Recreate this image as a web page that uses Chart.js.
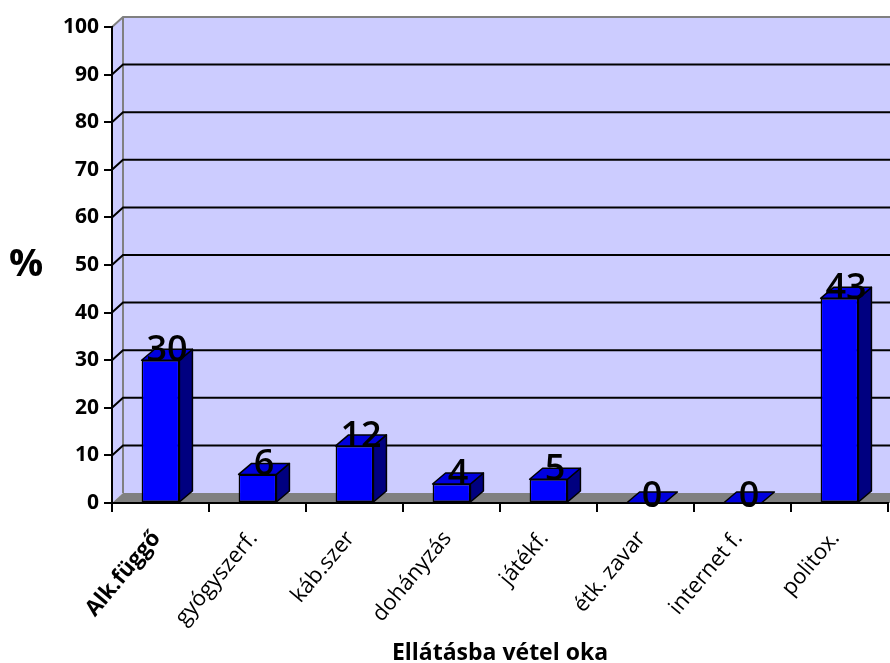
<!DOCTYPE html>
<html>
<head>
<meta charset="utf-8">
<script src="https://cdn.jsdelivr.net/npm/chart.js@4"></script>
<style>
  html, body { margin: 0; padding: 0; background: #fff; }
  #wrap { width: 890px; height: 663px; }
</style>
</head>
<body>
<div id="wrap"><canvas id="c" width="890" height="663"></canvas></div>
<script>
const categories = ['Alk.függő', 'gyógyszerf.', 'káb.szer', 'dohányzás', 'játékf.', 'étk. zavar', 'internet f.', 'politox.'];
const values = [30, 6, 12, 4, 5, 0, 0, 43];
const yTicks = [0, 10, 20, 30, 40, 50, 60, 70, 80, 90, 100];

Chart.defaults.font.family = "'Open Sans', 'DejaVu Sans', sans-serif";
Chart.defaults.color = '#000';

// depth offsets for the fake 3D look
const WALL = { dx: 11, dy: 10 };
const BAR = { dx: 13, dy: 11 };

const threeD = {
  id: 'threeD',
  beforeDraw(chart) {
    const { ctx, chartArea: a, scales: { y } } = chart;
    const W = chart.width;
    ctx.save();
    // side + back wall
    ctx.fillStyle = '#CCCCFF';
    ctx.beginPath();
    ctx.moveTo(a.left, a.bottom);
    ctx.lineTo(a.left, a.top);
    ctx.lineTo(a.left + WALL.dx, a.top - WALL.dy);
    ctx.lineTo(W, a.top - WALL.dy);
    ctx.lineTo(W, a.bottom - WALL.dy);
    ctx.lineTo(a.left + WALL.dx, a.bottom - WALL.dy);
    ctx.closePath();
    ctx.fill();
    // wall borders
    ctx.strokeStyle = '#808080';
    ctx.lineWidth = 2;
    ctx.beginPath();
    ctx.moveTo(a.left, a.top);
    ctx.lineTo(a.left + WALL.dx, a.top - WALL.dy);
    ctx.lineTo(W, a.top - WALL.dy);
    ctx.moveTo(a.left + WALL.dx, a.top - WALL.dy);
    ctx.lineTo(a.left + WALL.dx, a.bottom - WALL.dy);
    ctx.stroke();
    // gridlines on the wall
    ctx.strokeStyle = '#000';
    ctx.lineWidth = 2;
    yTicks.forEach(v => {
      if (v === 0 || v === 100) return;
      const py = y.getPixelForValue(v);
      ctx.beginPath();
      ctx.moveTo(a.left, py);
      ctx.lineTo(a.left + WALL.dx, py - WALL.dy);
      ctx.lineTo(W, py - WALL.dy);
      ctx.stroke();
    });
    // floor
    ctx.fillStyle = '#808080';
    ctx.beginPath();
    ctx.moveTo(a.left, a.bottom);
    ctx.lineTo(a.left + WALL.dx, a.bottom - WALL.dy);
    ctx.lineTo(W, a.bottom - WALL.dy);
    ctx.lineTo(W, a.bottom);
    ctx.closePath();
    ctx.fill();
    ctx.restore();
  },
  afterDatasetsDraw(chart) {
    const { ctx } = chart;
    const meta = chart.getDatasetMeta(0);
    ctx.save();
    ctx.strokeStyle = '#000';
    ctx.lineWidth = 1.5;
    ctx.lineJoin = 'round';
    meta.data.forEach(bar => {
      const l = bar.x - bar.width / 2, r = bar.x + bar.width / 2;
      const t = bar.y, b = bar.base;
      // side
      if (b - t > 0.5) {
        ctx.fillStyle = '#000080';
        ctx.beginPath();
        ctx.moveTo(r, t);
        ctx.lineTo(r + BAR.dx, t - BAR.dy);
        ctx.lineTo(r + BAR.dx, b - BAR.dy);
        ctx.lineTo(r, b);
        ctx.closePath();
        ctx.fill();
        ctx.stroke();
      }
      // top
      ctx.fillStyle = '#0000DD';
      ctx.beginPath();
      ctx.moveTo(l, t);
      ctx.lineTo(l + BAR.dx, t - BAR.dy);
      ctx.lineTo(r + BAR.dx, t - BAR.dy);
      ctx.lineTo(r, t);
      ctx.closePath();
      ctx.fill();
      ctx.stroke();
    });
    // value labels
    ctx.fillStyle = '#000';
    ctx.font = "600 36px 'Open Sans'";
    ctx.textAlign = 'center';
    ctx.textBaseline = 'alphabetic';
    meta.data.forEach((bar, i) => {
      const off = values[i] === 0 ? 4 : 1;
      ctx.fillText(String(values[i]), bar.x + BAR.dx / 2, bar.y + off);
    });
    ctx.restore();
  },
  afterDraw(chart) {
    const { ctx, scales: { y } } = chart;
    ctx.save();
    ctx.fillStyle = '#000';
    ctx.font = "bold 38px 'Open Sans'";
    ctx.textAlign = 'center';
    ctx.textBaseline = 'middle';
    ctx.fillText('%', 26, y.getPixelForValue(50));
    ctx.restore();
  }
};

new Chart(document.getElementById('c'), {
  type: 'bar',
  data: {
    labels: categories,
    datasets: [{
      data: values,
      backgroundColor: '#0000FF',
      borderColor: '#000',
      borderWidth: 1.5,
      borderSkipped: false,
      barPercentage: 0.39,
      categoryPercentage: 1
    }]
  },
  options: {
    responsive: false,
    animation: false,
    layout: { padding: { top: 27, right: 2, left: 0, bottom: 0 } },
    plugins: {
      legend: { display: false },
      tooltip: { enabled: false }
    },
    scales: {
      x: {
        afterFit(scale) { scale.height = 160; },
        grid: { drawOnChartArea: false, color: '#000', lineWidth: 2, tickLength: 9 },
        border: { color: '#000', width: 2 },
        ticks: {
          maxRotation: 50, minRotation: 50, padding: 14, labelOffset: -4,
          font: ctx => ctx.index === 0 ? { size: 22, weight: 'bold' } : { size: 22 }
        },
        title: {
          display: true, text: 'Ellátásba vétel oka',
          font: { size: 23, weight: 'bold' }, padding: { top: 0, bottom: -4 }
        }
      },
      y: {
        min: 0, max: 100,
        afterFit(scale) { scale.width = 112; },
        grid: { drawOnChartArea: false, color: '#000', lineWidth: 2, tickLength: 8 },
        border: { color: '#000', width: 2 },
        ticks: { stepSize: 10, padding: 5, font: { size: 21, weight: 'bold' } }
      }
    }
  },
  plugins: [threeD]
});
</script>
</body>
</html>
